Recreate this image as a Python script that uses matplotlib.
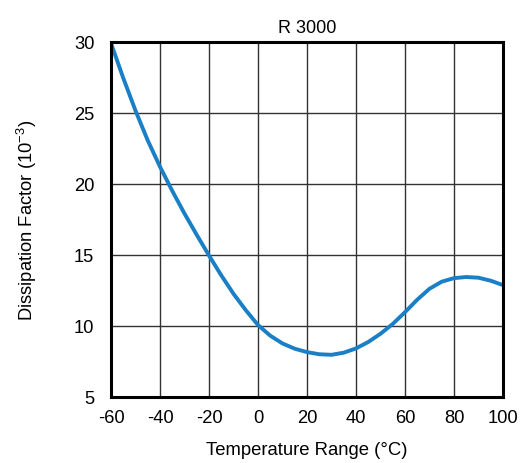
import matplotlib
matplotlib.use("Agg")
import matplotlib.pyplot as plt

plt.rcParams['font.family'] = ['Liberation Sans', 'DejaVu Sans']
plt.rcParams['mathtext.fontset'] = 'custom'
plt.rcParams['mathtext.rm'] = 'Liberation Sans'
plt.rcParams['mathtext.it'] = 'Liberation Sans'

temperature = [-60, -55, -50, -45, -40, -35, -30, -25, -20, -15, -10, -5, 0, 5, 10, 15, 20, 25, 30, 35, 40, 45, 50, 55, 60, 65, 70, 75, 80, 85, 90, 95, 100]
dissipation = [29.9, 27.45, 25.15, 23.05, 21.2, 19.5, 17.9, 16.4, 14.95, 13.55, 12.25, 11.1, 10.05, 9.3, 8.75, 8.38, 8.14, 7.99, 7.95, 8.1, 8.4, 8.85, 9.43, 10.12, 10.95, 11.83, 12.6, 13.1, 13.35, 13.43, 13.38, 13.17, 12.86]

x_ticks = [-60, -40, -20, 0, 20, 40, 60, 80, 100]
y_ticks = [5, 10, 15, 20, 25, 30]

fig = plt.figure(figsize=(5.24, 4.64), dpi=100)
ax = fig.add_axes([0.2118, 0.1429, 0.748, 0.765])

ax.plot(temperature, dissipation, color='#1a7fc4', linewidth=2.8, solid_capstyle='butt',
        solid_joinstyle='round', zorder=3)

ax.set_xlim(-60, 100)
ax.set_ylim(5, 30)
ax.set_xticks(x_ticks)
ax.set_yticks(y_ticks)
ax.set_xticklabels([str(v) for v in x_ticks])
ax.set_yticklabels([str(v) for v in y_ticks])
ax.tick_params(axis='both', length=0, labelsize=13.2, colors='black')
ax.tick_params(axis='x', pad=9)
ax.tick_params(axis='y', pad=12)
ax.grid(True, color='#333333', linewidth=1.0)
ax.set_axisbelow(True)
for s in ax.spines.values():
    s.set_linewidth(2.2)
    s.set_color('black')
    s.set_zorder(4)

ax.set_title('R 3000', fontsize=13, pad=7)
ax.set_xlabel('Temperature Range (°C)', fontsize=13.3, labelpad=11)
ax.set_ylabel(r'Dissipation Factor (10$^{-3}$)', fontsize=13.2, labelpad=25)

fig.savefig('out.png', dpi=100)
